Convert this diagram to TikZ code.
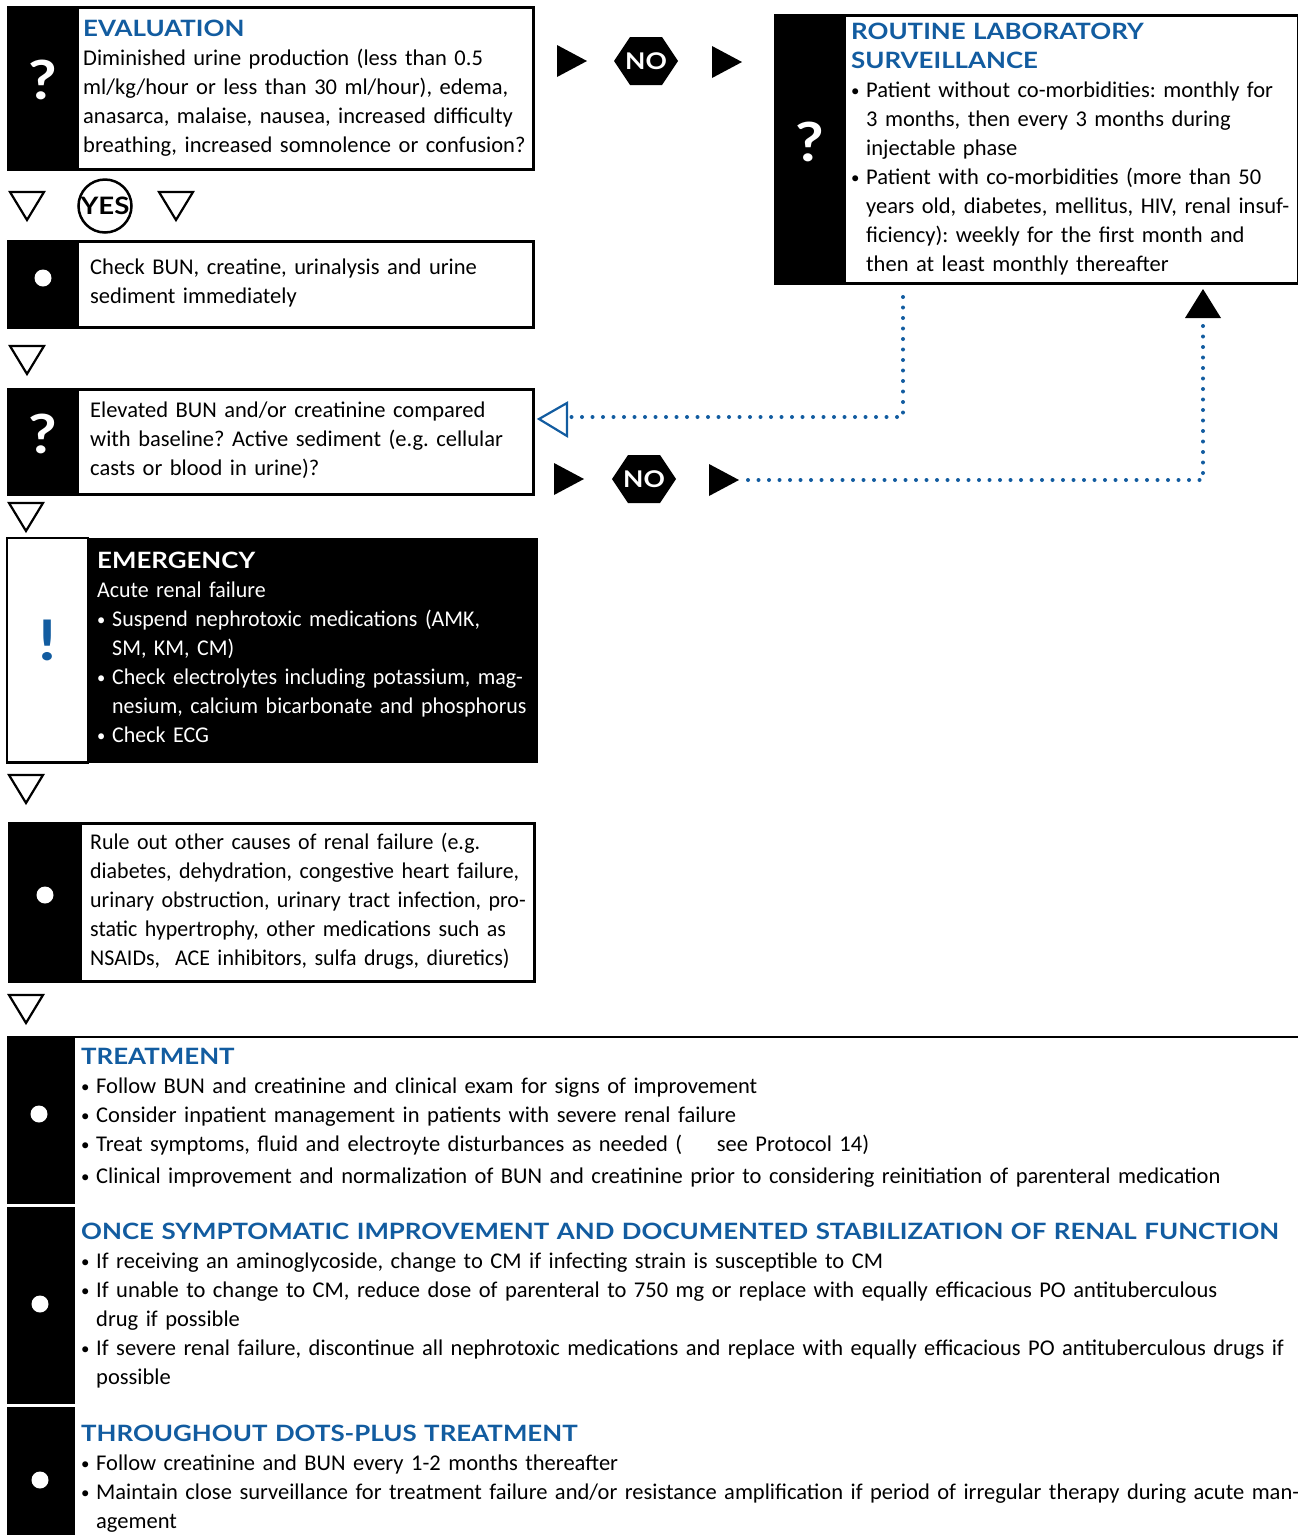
\documentclass[tikz,border=0pt]{standalone}
\usepackage{fontspec}
\setmainfont{Carlito}
\newfontfamily\hdfont{Lato}[FakeStretch=1.15]
\newfontfamily\nrfont{Carlito}[FakeStretch=0.975]
\usetikzlibrary{calc}
\definecolor{hblue}{RGB}{18,92,160}
\frenchspacing
\newcommand\bodyfont{\fontsize{22.5}{29}\selectfont}
\newcommand\bl{\noindent\hbox to 15pt{\raisebox{1pt}{\scalebox{0.75}{\textbullet}}\hss}}
\newcommand\ct{\noindent\hspace*{15pt}}
\newcommand\hd[1]{{\hdfont\bfseries\color{hblue}#1}}
\tikzset{
  box/.style={draw=black, line width=2.5pt, fill=white, inner sep=0pt, anchor=north west},
  txt/.style={anchor=north west, inner sep=0pt, align=left, font=\bodyfont},
  qmark/.style={text=white, inner sep=0pt, font=\hdfont\bfseries\fontsize{54}{54}\selectfont},
  wdot/.style={circle, fill=white, minimum size=17pt, inner sep=0pt},
  dotline/.style={draw=hblue, line width=4pt, line cap=round, dash pattern=on 0pt off 10.5pt},
  nolabel/.style={text=white, inner sep=0pt, font=\hdfont\bfseries\fontsize{23}{23}\selectfont},
  downmark/.pic={\draw[line width=2.2pt, line join=miter] (-17,-14) -- (17,-14) -- (0,14) -- cycle;},
  rightmark/.pic={\fill (-15,-16) -- (15,0) -- (-15,16) -- cycle;},
  hexmark/.pic={\fill (-32,0) -- (-16,-24) -- (16,-24) -- (32,0) -- (16,24) -- (-16,24) -- cycle;},
}
\begin{document}
\begin{tikzpicture}[x=1pt,y=-1pt]
\useasboundingbox (0,0) rectangle (1298,1535);

% ---------- evaluation ----------
\node[box, minimum width=525, minimum height=162] (b1) at (7,6) {};
\fill (b1.north west) rectangle ([xshift=72pt]b1.south west);
\node[qmark] (q1) at (43,80) {?};
\node[txt, text width=460] (t1) at (83,16) {\strut\hd{EVALUATION}\\
Diminished urine production (less than 0.5\\
ml/kg/hour or less than 30 ml/hour), edema,\\
anasarca, malaise, nausea, increased difficulty\\
breathing, increased somnolence or confusion?};

% yes branch markers
\pic at (27,206) {downmark};
\node[circle, draw, line width=2.5pt, minimum size=53pt, inner sep=0pt,
      font=\hdfont\bfseries\fontsize{24}{24}\selectfont] (yes) at (105,206) {YES};
\pic at (176,206) {downmark};

% ---------- check BUN ----------
\node[box, minimum width=525, minimum height=86] (b2) at (7,240) {};
\fill (b2.north west) rectangle ([xshift=72pt]b2.south west);
\node[wdot] (d2) at (43,278) {};
\node[txt, text width=460] (t2) at (90,254) {\strut Check BUN, creatine, urinalysis and urine\\
sediment immediately};

\pic at (27,360) {downmark};

% ---------- elevated BUN ----------
\node[box, minimum width=525, minimum height=105] (b3) at (7,388) {};
\fill (b3.north west) rectangle ([xshift=72pt]b3.south west);
\node[qmark] (q3) at (43,434) {?};
\node[txt, text width=460] (t3) at (90,397) {\strut Elevated BUN and/or creatinine compared\\
with baseline? Active sediment (e.g. cellular\\
casts or blood in urine)?};

\pic at (26,517) {downmark};

% ---------- emergency ----------
\node[box, fill=black, minimum width=528, minimum height=222] (b4) at (7,538) {};
\filldraw[fill=white, draw=black, line width=2.5pt] (b4.north west) rectangle ([xshift=81pt]b4.south west);
\node[inner sep=0pt, text=hblue, font=\hdfont\bfseries\fontsize{56}{56}\selectfont] (ex) at (48,640) {!};
\node[txt, text=white, text width=460, font=\nrfont\bodyfont] (t4) at (97,548) {\strut{\hdfont\bfseries EMERGENCY}\\
Acute renal failure\\
\bl Suspend nephrotoxic medications (AMK,\\
\ct SM, KM, CM)\\
\bl Check electrolytes including potassium, mag-\\
\ct nesium, calcium bicarbonate and phosphorus\\
\bl Check ECG};

\pic at (26,789) {downmark};

% ---------- rule out ----------
\node[box, minimum width=525, minimum height=158] (b5) at (8,822) {};
\fill (b5.north west) rectangle ([xshift=74pt]b5.south west);
\node[wdot] (d5) at (45,895) {};
\node[txt, text width=460, font=\nrfont\bodyfont] (t5) at (90,829) {\strut Rule out other causes of renal failure (e.g.\\
diabetes, dehydration, congestive heart failure,\\
urinary obstruction, urinary tract infection, pro-\\
static hypertrophy, other medications such as\\
NSAIDs,\ \ ACE inhibitors, sulfa drugs, diuretics)};

\pic at (26,1009) {downmark};

% ---------- routine surveillance ----------
\node[box, minimum width=523, minimum height=268] (rt) at (774,14) {};
\fill (rt.north west) rectangle ([xshift=72pt]rt.south west);
\node[qmark] (qr) at (810,142) {?};
\node[txt, text width=445] (tr) at (851,19) {\strut\hd{ROUTINE LABORATORY}\\
\hd{SURVEILLANCE}\\
\bl Patient without co-morbidities: monthly for\\
\ct 3 months, then every 3 months during\\
\ct injectable phase\\
\bl Patient with co-morbidities (more than 50\\
\ct years old, diabetes, mellitus, HIV, renal insuf-\\
\ct ficiency): weekly for the first month and\\
\ct then at least monthly thereafter};

% ---------- no branches ----------
\pic at (572,61) {rightmark};
\pic at (646,61) {hexmark};
\node[nolabel] (no1) at (646,61) {NO};
\pic at (727,62) {rightmark};

\pic at (569,479) {rightmark};
\pic at (644,479) {hexmark};
\node[nolabel] (no2) at (644,479) {NO};
\pic at (724,480) {rightmark};

% dotted return into the elevated-BUN question
\coordinate (rtout) at (903,297);
\coordinate (backin) at (571,417);
\draw[dotline] (rtout) -- (903,417) -- (backin);
\draw[draw=hblue, line width=2.2pt, line join=miter] (539,419) -- (567,403) -- (567,436) -- cycle;

% dotted path up to the routine box
\coordinate (noout) at (748,480);
\coordinate (upin) at (1203,322);
\draw[dotline] (noout) -- (1203,480) -- (upin);
\fill (1203,289) -- (1221,318) -- (1185,318) -- cycle;

% ---------- treatment panel ----------
\draw[line width=2.5pt] (7,1037) -- (1298,1037);
\fill (7,1037) rectangle (75,1204);
\fill (7,1207) rectangle (75,1404);
\fill (7,1407) rectangle (75,1535);
\node[wdot] (d6) at (39,1114) {};
\node[wdot] (d7) at (40,1304) {};
\node[wdot] (d8) at (40,1480) {};

\node[txt, text width=1240] (t6) at (81,1044) {\strut\hd{TREATMENT}\\
\bl Follow BUN and creatinine and clinical exam for signs of improvement\\
\bl Consider inpatient management in patients with severe renal failure\\
\bl Treat symptoms, fluid and electroyte disturbances as needed (\hspace{1.2em} see Protocol 14)\\[3pt]
\bl Clinical improvement and normalization of BUN and creatinine prior to considering reinitiation of parenteral medication};

\node[txt, text width=1240] (t7) at (81,1219) {\strut\hd{ONCE SYMPTOMATIC IMPROVEMENT AND DOCUMENTED STABILIZATION OF RENAL FUNCTION}\\
\bl If receiving an aminoglycoside, change to CM if infecting strain is susceptible to CM\\
\bl If unable to change to CM, reduce dose of parenteral to 750 mg or replace with equally efficacious PO antituberculous\\
\ct drug if possible\\
\bl If severe renal failure, discontinue all nephrotoxic medications and replace with equally efficacious PO antituberculous drugs if\\
\ct possible};

\node[txt, text width=1240] (t8) at (81,1421) {\strut\hd{THROUGHOUT DOTS-PLUS TREATMENT}\\
\bl Follow creatinine and BUN every 1-2 months thereafter\\
\bl Maintain close surveillance for treatment failure and/or resistance amplification if period of irregular therapy during acute man-\\
\ct agement};
\end{tikzpicture}
\end{document}
